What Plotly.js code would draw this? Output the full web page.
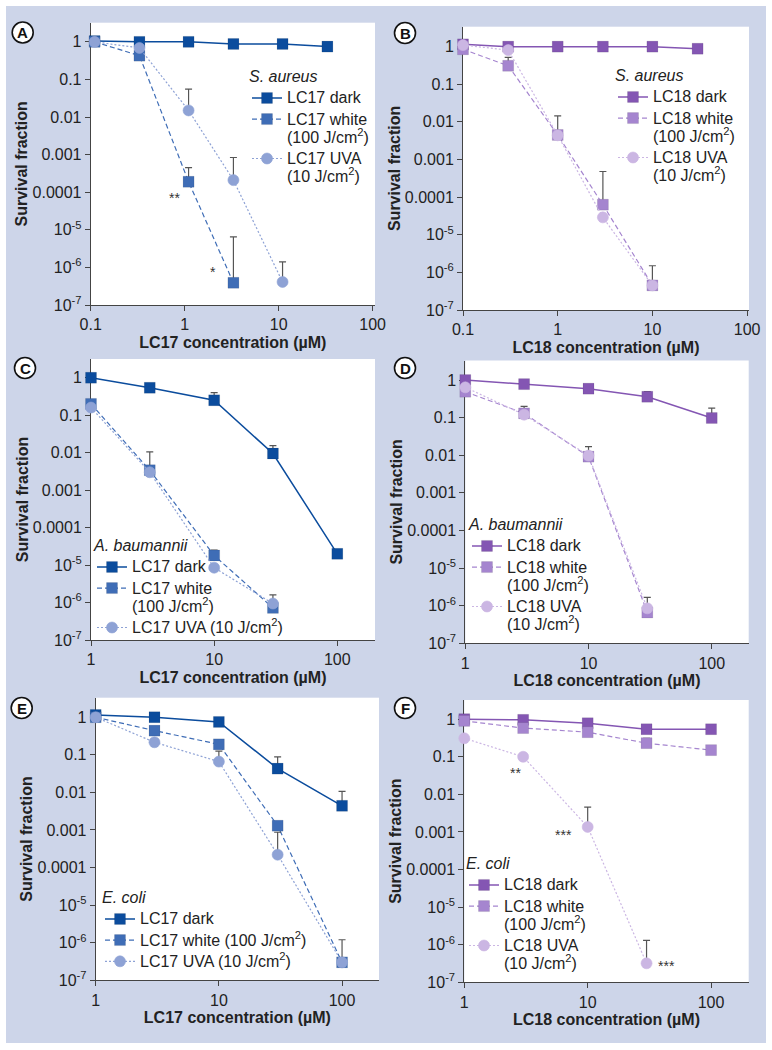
<!DOCTYPE html>
<html>
<head>
<meta charset="utf-8">
<script src="https://cdn.plot.ly/plotly-3.0.1.min.js"></script>
<style>
body { margin: 0; background: #fff; }
#survDiv { position: absolute; left: 6px; top: 6px; width: 760px; height: 1037px; }
</style>
</head>
<body>
<div id="survDiv"></div>
<script>
// concentrations (uM)
const concA = [0.11, 0.33, 1.1, 3.3, 11, 33]
const concB = [0.1, 0.3, 1, 3, 10, 30]
const concCF = [1, 3, 10, 30, 100]

// survival fractions (tops = upper end of error bar)
// A: LC17, S. aureus
const darkA = [1.05, 1.0, 1.0, 0.88, 0.88, 0.75]
const whiteA = [1.0, 0.43, 1.9e-4, 3.9e-7]
const whiteTopA = [null, null, 4.5e-4, 6.5e-6]
const uvaA = [1.0, 0.69, 0.015, 2.1e-4, 4.1e-7]
const uvaTopA = [null, null, 0.055, 8.4e-4, 1.4e-6]
// B: LC18, S. aureus
const darkB = [1.15, 1.0, 1.0, 1.0, 1.0, 0.88]
const whiteB = [0.85, 0.31, 0.0045, 6.3e-5, 4.5e-7]
const whiteTopB = [null, 0.52, 0.0145, 4.8e-4, 1.5e-6]
const uvaB = [1.1, 0.81, 0.0044, 2.9e-5, 4.5e-7]
// C: LC17, A. baumannii
const darkC = [1.0, 0.54, 0.25, 0.0095, 2.0e-5]
const darkTopC = [null, null, 0.4, 0.0154, 2.6e-5]
const whiteC = [0.2, 0.0034, 1.8e-5, 7.2e-7]
const whiteTopC = [null, 0.0105, 2.5e-5, 1.6e-6]
const uvaC = [0.16, 0.003, 8.5e-6, 9.4e-7]
// D: LC18, A. baumannii
const darkD = [1.0, 0.78, 0.59, 0.36, 0.098]
const darkTopD = [null, null, null, 0.49, 0.18]
const whiteD = [0.49, 0.13, 0.0092, 6.6e-7]
const whiteTopD = [null, 0.2, 0.017, 1.67e-6]
const uvaD = [0.64, 0.12, 0.0098, 8.5e-7]
// E: LC17, E. coli
const darkE = [1.15, 1.0, 0.75, 0.043, 0.0044]
const darkTopE = [null, null, null, 0.088, 0.0107]
const whiteE = [1.0, 0.44, 0.19, 0.0013, 3.0e-7]
const whiteTopE = [null, null, null, null, 1.2e-6]
const uvaE = [1.0, 0.216, 0.066, 2.2e-4, 3.0e-7]
const uvaTopE = [null, null, 0.126, 8.7e-4, null]
// F: LC18, E. coli
const darkF = [1.0, 0.96, 0.78, 0.54, 0.54]
const whiteF = [0.9, 0.58, 0.45, 0.23, 0.15]
const whiteTopF = [null, null, null, 0.31, null]
const uvaF = [0.31, 0.1, 0.00136, 3.2e-7]
const uvaTopF = [null, null, 0.0046, 1.3e-6]

const yTickVals = [1, 0.1, 0.01, 0.001, 0.0001, 1e-5, 1e-6, 1e-7]
const yTickText = ['1', '0.1', '0.01', '0.001', '0.0001', '10<sup>-5</sup>', '10<sup>-6</sup>', '10<sup>-7</sup>']
const xTicksAB = [0.1, 1, 10, 100]
const xTicksCF = [1, 10, 100]

const FONT = 'Liberation Sans, Arial, Helvetica, sans-serif'
const col = {
    lc17: ['#0b4c9d', '#3f6db6', '#8ea2d5'],
    lc18: ['#8456b3', '#a585cf', '#cbb6e3']
}

// page pixel -> paper coords (plot div sits at 6,6 and is 760x1037)
const px = v => (v - 6) / 760
const py = v => 1 - (v - 6) / 1037

// legend lines: 16px glyphs on a 14px legend so rows stay tight like the figure
function lbl(lines) {
    return lines.map(l => `<span style="font-size:16px">${l}</span>`).join('<br>')
}

function series(xs, ys, tops, name, kind, colors, ax, leg) {
    const c = colors[kind]
    const plus = ys.map((y, i) => (tops && tops[i] != null) ? tops[i] - y : 0)
    return {
        x: xs.slice(0, ys.length), y: ys,
        name: name, type: 'scatter', mode: 'lines+markers',
        xaxis: 'x' + ax, yaxis: 'y' + ax, legend: leg,
        cliponaxis: false,
        line: { color: c, width: kind == 0 ? 1.5 : 1.2, dash: ['solid', '5px,3px', '2px,2px'][kind] },
        marker: {
            symbol: kind == 2 ? 'circle' : 'square',
            size: 11,
            color: c,
            line: { color: kind == 2 ? c : 'rgba(0,0,0,0.15)', width: 0.6 }
        },
        error_y: {
            type: 'data', symmetric: false, array: plus, arrayminus: ys.map(() => 0),
            color: '#555', thickness: 1.2, width: 3.5
        }
    }
}

const panels = [
    { ax: '', leg: 'legend', drug: 'LC17', colors: col.lc17, conc: concA,
      d: [darkA, null], w: [whiteA, whiteTopA], u: [uvaA, uvaTopA],
      wName: ['LC17 white', '(100 J/cm<sup>2</sup>)'], uName: ['LC17 UVA', '(10 J/cm<sup>2</sup>)'],
      bug: 'S. aureus', xd: [90.7, 375], yd: [22.7, 305], xr: [-1, 2.025], yr: [-7, 0.51], xt: xTicksAB,
      legX: 247, legY: 127, letter: 'A', lc: [22.7, 32.5] },
    { ax: '2', leg: 'legend2', drug: 'LC18', colors: col.lc18, conc: concB,
      d: [darkB, null], w: [whiteB, whiteTopB], u: [uvaB, null],
      wName: ['LC18 white', '(100 J/cm<sup>2</sup>)'], uName: ['LC18 UVA', '(10 J/cm<sup>2</sup>)'],
      bug: 'S. aureus', xd: [463, 749], yd: [26.7, 310], xr: [-1, 2.02], yr: [-7, 0.53], xt: xTicksAB,
      legX: 613, legY: 126, letter: 'B', lc: [405, 33] },
    { ax: '3', leg: 'legend3', drug: 'LC17', colors: col.lc17, conc: concCF,
      d: [darkC, darkTopC], w: [whiteC, whiteTopC], u: [uvaC, null],
      wName: ['LC17 white', '(100 J/cm<sup>2</sup>)'], uName: ['LC17 UVA (10 J/cm<sup>2</sup>)'],
      bug: 'A. baumannii', xd: [91, 375], yd: [359, 640], xr: [0, 2.306], yr: [-7, 0.5], xt: xTicksCF,
      legX: 92, legY: 587, letter: 'C', lc: [25, 368] },
    { ax: '4', leg: 'legend4', drug: 'LC18', colors: col.lc18, conc: concCF,
      d: [darkD, darkTopD], w: [whiteD, whiteTopD], u: [uvaD, null],
      wName: ['LC18 white', '(100 J/cm<sup>2</sup>)'], uName: ['LC18 UVA', '(10 J/cm<sup>2</sup>)'],
      bug: 'A. baumannii', xd: [465.3, 748.7], yd: [360.5, 643.3], xr: [0, 2.3], yr: [-7, 0.52], xt: xTicksCF,
      legX: 467, legY: 575, letter: 'D', lc: [405, 368] },
    { ax: '5', leg: 'legend5', drug: 'LC17', colors: col.lc17, conc: concCF,
      d: [darkE, darkTopE], w: [whiteE, whiteTopE], u: [uvaE, uvaTopE],
      wName: ['LC17 white (100 J/cm<sup>2</sup>)'], uName: ['LC17 UVA (10 J/cm<sup>2</sup>)'],
      bug: 'E. coli', xd: [95.7, 379], yd: [697.7, 980.3], xr: [0, 2.3], yr: [-7, 0.52], xt: xTicksCF,
      legX: 100, legY: 930, letter: 'E', lc: [21.7, 708] },
    { ax: '6', leg: 'legend6', drug: 'LC18', colors: col.lc18, conc: concCF,
      d: [darkF, null], w: [whiteF, whiteTopF], u: [uvaF, uvaTopF],
      wName: ['LC18 white', '(100 J/cm<sup>2</sup>)'], uName: ['LC18 UVA', '(10 J/cm<sup>2</sup>)'],
      bug: 'E. coli', xd: [464.3, 748.7], yd: [700, 982.3], xr: [0, 2.305], yr: [-7, 0.51], xt: xTicksCF,
      legX: 464, legY: 914, letter: 'F', lc: [405, 708] }
]

// significance marks: [axis, log x, log y, text]
const stars = [
    ['', -0.11, -4.15, '**'],
    ['', 0.298, -6.13, '*'],
    ['6', 0.413, -1.44, '**'],
    ['6', 0.806, -3.08, '***'],
    ['6', 1.635, -6.56, '***']
]

let traces = []
let layout = {
    width: 760, height: 1037,
    margin: { l: 0, r: 0, t: 0, b: 0 },
    paper_bgcolor: '#cdd5e9',
    plot_bgcolor: '#ffffff',
    font: { family: FONT, color: '#222', size: 16 },
    showlegend: true,
    shapes: [],
    annotations: []
}

panels.forEach(p => {
    traces.push(series(p.conc, p.d[0], p.d[1], lbl([p.drug + ' dark']), 0, p.colors, p.ax, p.leg))
    traces.push(series(p.conc, p.w[0], p.w[1], lbl(p.wName), 1, p.colors, p.ax, p.leg))
    traces.push(series(p.conc, p.u[0], p.u[1], lbl(p.uName), 2, p.colors, p.ax, p.leg))

    const axCommon = {
        type: 'log', showgrid: false, zeroline: false,
        showline: true, linecolor: '#444', linewidth: 1,
        ticks: 'outside', ticklen: 5, tickcolor: '#444', tickwidth: 1,
        tickfont: { size: 16, color: '#222' },
        layer: 'below traces', fixedrange: true
    }
    layout['xaxis' + p.ax] = Object.assign({}, axCommon, {
        domain: [px(p.xd[0]), px(p.xd[1])], range: p.xr,
        anchor: 'y' + p.ax,
        tickmode: 'array', tickvals: p.xt, ticktext: p.xt.map(String),
        title: { text: `<b>${p.drug} concentration (µM)</b>`, font: { size: 16, color: '#222' }, standoff: 4 }
    })
    layout['yaxis' + p.ax] = Object.assign({}, axCommon, {
        domain: [py(p.yd[1]), py(p.yd[0])], range: p.yr,
        anchor: 'x' + p.ax,
        tickmode: 'array', tickvals: yTickVals, ticktext: yTickText,
        title: { text: '<b>Survival fraction</b>', font: { size: 16, color: '#222' }, standoff: 0 }
    })
    layout[p.leg] = {
        x: px(p.legX), y: py(p.legY), xanchor: 'left', yanchor: 'middle',
        bgcolor: 'rgba(0,0,0,0)', borderwidth: 0,
        font: { size: 14, color: '#222' },
        valign: 'top', itemwidth: 30, tracegroupgap: 0,
        title: { text: `<i>${p.bug}</i>`, font: { size: 16, color: '#222' }, side: 'top' }
    }
    // panel letter
    const r = 10.5
    layout.shapes.push({
        type: 'circle', xref: 'paper', yref: 'paper',
        x0: px(p.lc[0] - r), x1: px(p.lc[0] + r), y0: py(p.lc[1] + r), y1: py(p.lc[1] - r),
        fillcolor: '#fff', line: { color: '#111', width: 1.6 }
    })
    layout.annotations.push({
        xref: 'paper', yref: 'paper', x: px(p.lc[0]), y: py(p.lc[1] + 0.5),
        xanchor: 'center', yanchor: 'middle',
        text: `<b>${p.letter}</b>`, showarrow: false, font: { size: 15, color: '#111' }
    })
})

stars.forEach(s => {
    layout.annotations.push({
        xref: 'x' + s[0], yref: 'y' + s[0], x: s[1], y: s[2], text: s[3],
        showarrow: false, font: { size: 14, color: '#333' }
    })
})

Plotly.newPlot('survDiv', traces, layout, { displayModeBar: false })
</script>
</body>
</html>
